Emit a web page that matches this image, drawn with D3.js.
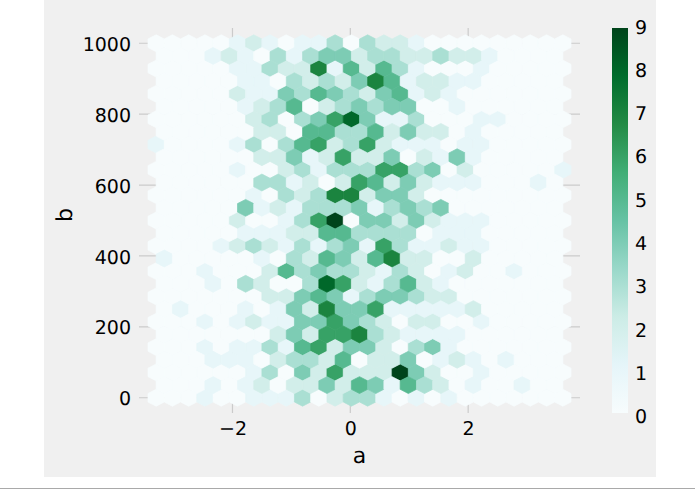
<!DOCTYPE html>
<html>
<head>
<meta charset="utf-8">
<script src="https://cdn.jsdelivr.net/npm/d3@7"></script>
<style>
  html, body { margin: 0; padding: 0; background: #fff; }
  svg { display: block; }
  text { font-family: "DejaVu Sans", sans-serif; fill: #000; text-rendering: geometricPrecision; }
</style>
</head>
<body>
<svg id="chart" width="695" height="490"></svg>
<script>
// extent of the hexbin grid in data units
var aRange = [-3.295, 3.607];
var bRange = [0, 1000];

// counts, top row first. outer lattice: 26 cols x 15 rows
var outerCounts = [
  [0,0,0,0,0,1,2,1,0,1,1,3,0,3,2,2,1,0,0,0,0,0,0,0,0,0],
  [0,0,0,0,0,1,1,3,2,2,7,1,5,2,5,3,1,0,0,0,1,0,0,0,0,0],
  [0,0,0,0,0,2,1,1,4,3,5,4,3,2,4,5,1,2,1,0,0,0,0,0,0,0],
  [0,0,0,0,0,0,2,3,0,3,4,6,8,4,1,1,3,0,0,0,1,1,0,0,0,0],
  [1,0,0,0,0,1,3,0,3,5,6,2,3,6,2,1,1,1,0,1,1,0,0,0,0,0],
  [0,0,0,0,0,1,0,0,2,3,1,3,3,3,6,6,3,4,0,2,0,0,0,0,0,1],
  [0,0,0,0,0,0,1,0,3,2,3,7,7,2,4,4,2,0,0,0,0,0,0,0,0,0],
  [0,0,0,0,0,2,0,0,1,3,6,9,0,4,4,2,4,2,1,1,1,0,0,0,0,0],
  [0,0,0,0,1,2,3,2,1,3,1,3,4,1,6,3,1,1,2,1,1,0,0,0,0,0],
  [0,0,0,1,0,0,0,2,5,3,4,3,3,2,1,3,2,0,1,2,0,0,1,0,0,0],
  [0,0,0,0,0,0,0,2,2,4,5,4,1,3,4,4,3,2,2,0,0,0,0,0,0,0],
  [0,0,0,1,0,1,2,1,1,4,4,6,4,3,2,0,2,2,0,0,1,0,0,0,0,0],
  [0,0,0,1,0,1,1,3,1,5,6,2,4,4,2,0,3,4,1,0,0,0,0,0,0,0],
  [0,0,0,0,0,0,1,3,0,4,2,6,2,2,2,9,4,2,0,0,1,0,0,0,0,0],
  [0,0,0,1,0,0,1,1,1,3,0,2,3,3,1,0,1,0,1,0,0,0,0,0,0,0]
];

// inner lattice: 25 cols x 14 rows, sits between the outer rows
var innerCounts = [
  [0,0,0,1,2,1,0,3,1,3,4,4,2,3,3,2,2,3,2,2,1,0,0,0,0],
  [0,0,0,0,0,1,1,0,3,2,3,2,4,7,5,1,2,2,1,1,0,0,0,0,0],
  [0,0,0,0,0,1,2,3,5,0,2,3,4,3,4,4,0,0,1,0,0,0,0,0,0],
  [0,0,0,0,0,0,2,2,0,5,5,3,3,5,2,4,2,2,0,1,0,0,0,0,0],
  [0,0,0,0,0,0,2,2,4,1,2,6,2,2,4,0,2,1,4,1,0,0,0,0,0],
  [0,0,0,0,0,0,3,3,1,2,0,2,6,5,2,4,2,1,1,1,0,0,0,1,0],
  [0,0,0,0,0,4,1,2,1,3,3,3,4,1,3,4,3,4,0,0,0,0,0,0,0],
  [0,0,0,0,0,1,1,1,2,2,5,5,3,3,3,3,0,1,1,1,0,0,0,0,0],
  [1,0,0,0,0,0,1,0,3,2,5,4,2,5,7,2,2,0,0,2,0,0,0,0,0],
  [0,0,0,1,0,3,2,0,0,3,8,6,2,1,3,5,2,1,0,0,0,0,0,0,0],
  [0,1,0,0,0,1,0,1,4,2,7,4,4,6,1,1,1,1,1,2,0,0,0,0,0],
  [0,0,0,0,0,0,0,2,4,2,6,6,7,3,2,1,1,1,1,0,0,0,0,0,0],
  [0,0,0,1,1,1,0,2,3,3,2,5,0,2,2,4,0,1,2,1,0,1,0,0,0],
  [0,0,0,1,0,1,2,0,2,2,4,2,5,4,1,5,3,2,0,1,0,0,1,0,0]
];

var aTicks = [-2, 0, 2];
var bTicks = [0, 200, 400, 600, 800, 1000];
var countTicks = [0, 1, 2, 3, 4, 5, 6, 7, 8, 9];
var buGn = ['#f7fcfd','#e5f5f9','#ccece6','#99d8c9','#66c2a4','#41ae76','#238b45','#006d2c','#00441b'];

var svg = d3.select("#chart");

// figure background and the rule under it
svg.append("rect").attr("x", 44).attr("y", 0).attr("width", 612).attr("height", 477).attr("fill", "#f0f0f0");
svg.append("line").attr("x1", 0).attr("x2", 695).attr("y1", 488.5).attr("y2", 488.5).attr("stroke", "#a9a9a9").attr("stroke-width", 1);

// axes box is 139..580 / 28..413
var x = d3.scaleLinear().domain([-3.586, 3.898]).range([139, 580]);
var y = d3.scaleLinear().domain([1043, -43]).range([28, 413]);
var color = d3.scaleLinear()
  .domain(buGn.map(function(d, i){ return i * 9 / 8 }))
  .range(buGn);

// grid goes under the hexagons
svg.append("g").selectAll("line").data(aTicks).enter().append("line")
  .attr("x1", function(d){ return x(d) }).attr("x2", function(d){ return x(d) })
  .attr("y1", 28).attr("y2", 413)
  .attr("stroke", "#cbcbcb").attr("stroke-width", 1.2);
svg.append("g").selectAll("line").data(bTicks).enter().append("line")
  .attr("y1", function(d){ return y(d) }).attr("y2", function(d){ return y(d) })
  .attr("x1", 139).attr("x2", 580)
  .attr("stroke", "#cbcbcb").attr("stroke-width", 1.2);

// hexagons, outer lattice first like hexbin does
var stepA = (aRange[1] - aRange[0]) / 25;
var stepB = (bRange[1] - bRange[0]) / 14;
var sx = x(stepA) - x(0);
var sy = y(0) - y(stepB);
var hexPath = "M" + [[.5,-.5],[.5,.5],[0,1],[-.5,.5],[-.5,-.5],[0,-1]].map(function(p){
  return (p[0] * sx) + "," + (p[1] * sy / 3);
}).join("L") + "Z";

var bins = [];
outerCounts.forEach(function(row, j){
  row.forEach(function(c, i){
    bins.push({a: aRange[0] + i * stepA, b: bRange[1] - j * stepB, count: c});
  });
});
innerCounts.forEach(function(row, j){
  row.forEach(function(c, i){
    bins.push({a: aRange[0] + (i + .5) * stepA, b: bRange[1] - (j + .5) * stepB, count: c});
  });
});

svg.append("g").selectAll("path").data(bins).enter().append("path")
  .attr("d", hexPath)
  .attr("transform", function(d){ return "translate(" + x(d.a) + "," + y(d.b) + ")" })
  .attr("fill", function(d){ return color(d.count) })
  .attr("stroke", function(d){ return color(d.count) })
  .attr("stroke-width", 0.7);

// tick labels
var fontSize = 19;
var xAxis = svg.append("g").attr("transform", "translate(0,413)")
  .call(d3.axisBottom(x).tickValues(aTicks).tickSize(0).tickPadding(9).tickFormat(d3.format("d")));
var yAxis = svg.append("g").attr("transform", "translate(139,1)")
  .call(d3.axisLeft(y).tickValues(bTicks).tickSize(0).tickPadding(8).tickFormat(d3.format("d")));

// colorbar
var defs = svg.append("defs");
var grad = defs.append("linearGradient").attr("id", "cbar")
  .attr("x1", 0).attr("x2", 0).attr("y1", 1).attr("y2", 0);
grad.selectAll("stop").data(buGn).enter().append("stop")
  .attr("offset", function(d, i){ return i / 8 })
  .attr("stop-color", function(d){ return d });

// labels run a little wider than the bar itself in the reference
var cbarY = d3.scaleLinear().domain([0, 9]).range([416.5, 27]);
svg.append("rect").attr("x", 612).attr("y", 28).attr("width", 16).attr("height", 385).attr("fill", "url(#cbar)");
var cAxis = svg.append("g").attr("transform", "translate(628,0)")
  .call(d3.axisRight(cbarY).tickValues(countTicks).tickSize(0).tickPadding(7).tickFormat(d3.format("d")));

[xAxis, yAxis, cAxis].forEach(function(g){
  g.select(".domain").remove();
  g.attr("font-family", null).attr("font-size", null);
  g.selectAll("text").style("font-size", fontSize + "px").style("fill", "#000");
});

// axis titles
svg.append("text").attr("x", 359.5).attr("y", 463).attr("text-anchor", "middle")
  .style("font-size", "22px").text("a");
svg.append("text").attr("transform", "translate(72,215) rotate(-90)").attr("text-anchor", "middle")
  .style("font-size", "22px").text("b");
</script>
</body>
</html>
